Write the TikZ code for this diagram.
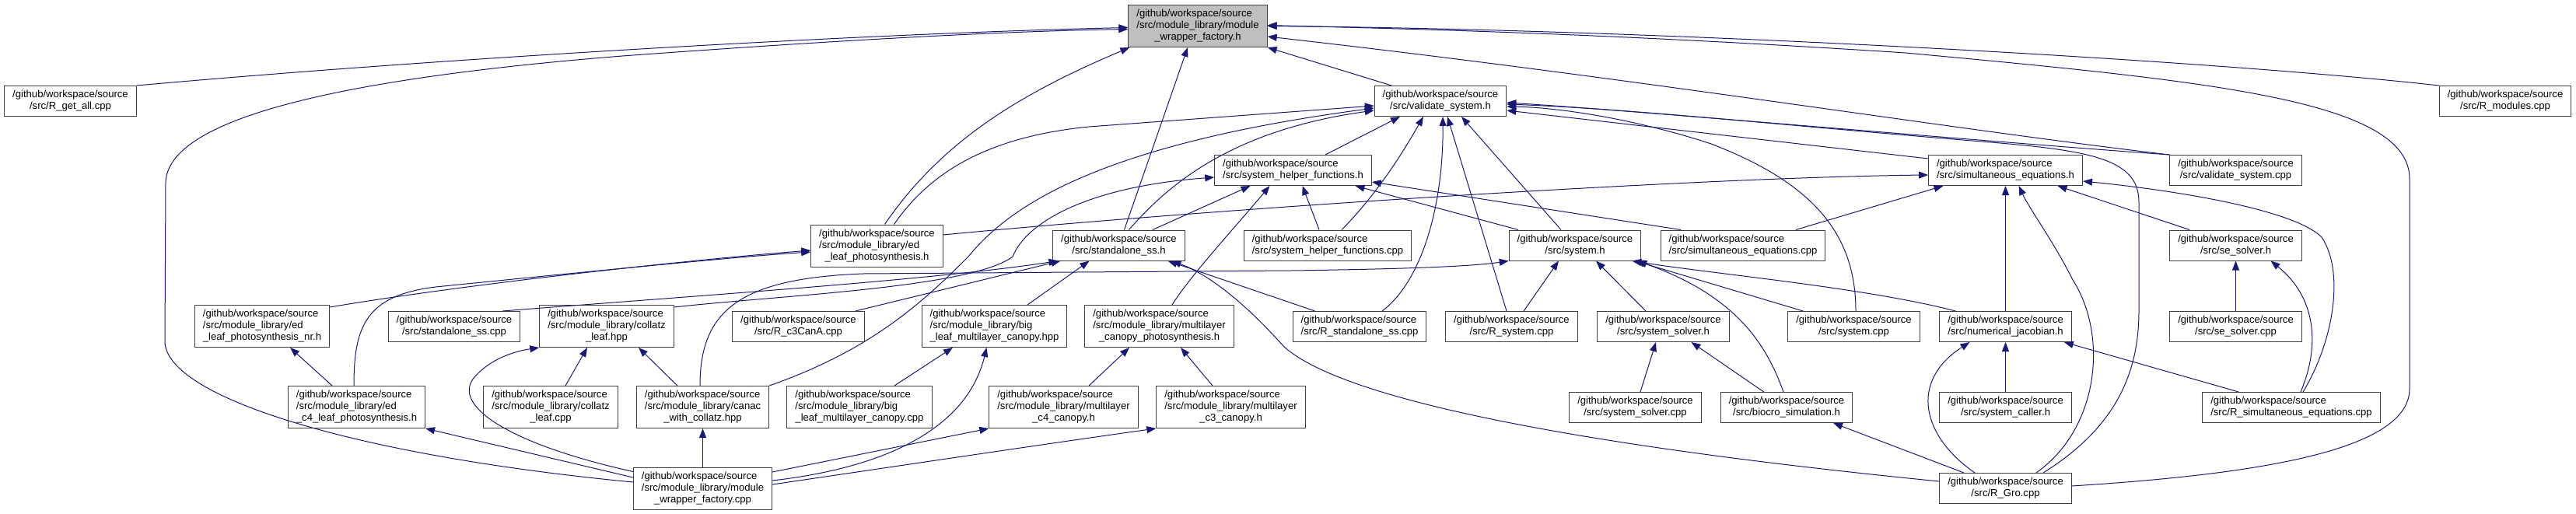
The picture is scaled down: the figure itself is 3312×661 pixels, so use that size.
\documentclass[tikz,border=0pt]{standalone}
\usepackage{fontspec}
\setmainfont{Liberation Sans}
\usepackage{xcolor}
\usetikzlibrary{arrows.meta,calc}

\definecolor{edgeblue}{HTML}{191970}
\definecolor{boxgray}{HTML}{BFBFBF}
\definecolor{boxline}{HTML}{404040}

% file labels: first lines flush left, last line centred
\newcommand{\ftwo}[1]{\begin{tabular}{@{}l@{}}/github/workspace/source\\\multicolumn{1}{@{}c@{}}{#1}\end{tabular}}
\newcommand{\fthree}[2]{\begin{tabular}{@{}l@{}}/github/workspace/source\\#1\\\multicolumn{1}{@{}c@{}}{#2}\end{tabular}}

\begin{document}
\begin{tikzpicture}[
    x=1pt, y=-1pt,
    every node/.style={rectangle, draw=boxline, line width=1pt, inner xsep=10.5pt, inner ysep=4.5pt,
        font=\fontsize{13.1}{15}\selectfont},
    focus/.style={fill=boxgray},
    dep/.style={draw=edgeblue, line width=1pt, -{Triangle[length=12pt,width=9pt]}}
]
\useasboundingbox (0,0) rectangle (3312,661);

% Top row
\node[focus] (mwf_h) at (1540,33.5) {\fthree{/src/module\_library/module}{\_wrapper\_factory.h}};
\node (R_get_all) at (90.5,130) {\ftwo{/src/R\_get\_all.cpp}};
\node (vs_h) at (1852,130) {\ftwo{/src/validate\_system.h}};
\node (R_modules) at (3221,130) {\ftwo{/src/R\_modules.cpp}};

% Second row
\node (shf_h) at (1662.5,219) {\ftwo{/src/system\_helper\_functions.h}};
\node (simeq_h) at (2578.5,219) {\ftwo{/src/simultaneous\_equations.h}};
\node (vs_cpp) at (2874.5,219) {\ftwo{/src/validate\_system.cpp}};

% Third row
\node (ed_leaf) at (1127.5,316) {\fthree{/src/module\_library/ed}{\_leaf\_photosynthesis.h}};
\node (ss_h) at (1438.5,315.5) {\ftwo{/src/standalone\_ss.h}};
\node (shf_cpp) at (1707,315.5) {\ftwo{/src/system\_helper\_functions.cpp}};
\node (system_h) at (2025,315.5) {\ftwo{/src/system.h}};
\node (simeq_cpp) at (2241,315.5) {\ftwo{/src/simultaneous\_equations.cpp}};
\node (se_solver_h) at (2874.5,315.5) {\ftwo{/src/se\_solver.h}};

% Fourth row
\node (ed_nr) at (337,419.5) {\fthree{/src/module\_library/ed}{\_leaf\_photosynthesis\_nr.h}};
\node (ss_cpp) at (584,420) {\ftwo{/src/standalone\_ss.cpp}};
\node (collatz_hpp) at (780,419.5) {\fthree{/src/module\_library/collatz}{\_leaf.hpp}};
\node (R_c3CanA) at (1026.5,420) {\ftwo{/src/R\_c3CanA.cpp}};
\node (bl_hpp) at (1278.5,419.5) {\fthree{/src/module\_library/big}{\_leaf\_multilayer\_canopy.hpp}};
\node (mlcp) at (1490.5,419.5) {\fthree{/src/module\_library/multilayer}{\_canopy\_photosynthesis.h}};
\node (R_standalone) at (1748,420) {\ftwo{/src/R\_standalone\_ss.cpp}};
\node (R_system) at (1943.5,420) {\ftwo{/src/R\_system.cpp}};
\node (system_solver_h) at (2138.5,420) {\ftwo{/src/system\_solver.h}};
\node (system_cpp) at (2383.5,420) {\ftwo{/src/system.cpp}};
\node (nj_h) at (2578.5,420) {\ftwo{/src/numerical\_jacobian.h}};
\node (se_solver_cpp) at (2874.5,420) {\ftwo{/src/se\_solver.cpp}};

% Fifth row
\node (ed_c4) at (458.5,523.5) {\fthree{/src/module\_library/ed}{\_c4\_leaf\_photosynthesis.h}};
\node (collatz_cpp) at (708,523.5) {\fthree{/src/module\_library/collatz}{\_leaf.cpp}};
\node (canac) at (903.5,523.5) {\fthree{/src/module\_library/canac}{\_with\_collatz.hpp}};
\node (bl_cpp) at (1105,523.5) {\fthree{/src/module\_library/big}{\_leaf\_multilayer\_canopy.cpp}};
\node (ml_c4) at (1367.5,523.5) {\fthree{/src/module\_library/multilayer}{\_c4\_canopy.h}};
\node (ml_c3) at (1582.5,523.5) {\fthree{/src/module\_library/multilayer}{\_c3\_canopy.h}};
\node (system_solver_cpp) at (2102.5,524) {\ftwo{/src/system\_solver.cpp}};
\node (biocro) at (2297,524) {\ftwo{/src/biocro\_simulation.h}};
\node (system_caller) at (2578.5,524) {\ftwo{/src/system\_caller.h}};
\node (R_simeq_cpp) at (2946,524) {\ftwo{/src/R\_simultaneous\_equations.cpp}};

% Bottom row
\node (mwf_cpp) at (903.5,628) {\fthree{/src/module\_library/module}{\_wrapper\_factory.cpp}};
\node (R_Gro) at (2578.5,628) {\ftwo{/src/R\_Gro.cpp}};

% Includes of module_wrapper_factory.h
\draw[dep] (R_get_all.north east) .. controls (600,72) and (1150,42) .. ($(mwf_h.west)+(0,2)$);
\draw[dep] ($(mwf_cpp.west)+(0,-8)$) .. controls (450,585) and (215,510) .. (212,440) -- (213,235)
    .. controls (215,150) and (450,100) .. (800,72) .. controls (1100,50) and (1300,40) .. ($(mwf_h.west)+(0,4)$);
\draw[dep] ($(ed_leaf.north)+(10,0)$) .. controls (1215,175) and (1323,116) .. ($(mwf_h.south west)+(2,0)$);
\draw[dep] ($(ss_h.north)+(7,0)$) -- ($(mwf_h.south)+(-13,0)$);
\draw[dep] ($(vs_h.north)+(-63,0)$) -- (mwf_h.south east);
\draw[dep] (vs_cpp.north west) .. controls (2500,165) and (2100,100) .. ($(mwf_h.east)+(0,13.5)$);
\draw[dep] (R_modules.north west) .. controls (2850,78) and (2150,38) .. (mwf_h.east);
\draw[dep] ($(R_Gro.east)+(0,-3)$) .. controls (2900,610) and (3098,580) .. (3098,500) -- (3098,230)
    .. controls (3098,130) and (2850,105) .. (2450,68) .. controls (2050,42) and (1800,37) .. ($(mwf_h.east)+(0,-1)$);

% Includes of validate_system.h
\draw[dep] ($(ed_leaf.north)+(22,0)$) .. controls (1200,215) and (1280,175) .. (1400,163) -- ($(vs_h.west)+(0,6)$);
\draw[dep] ($(ss_h.north)+(13,0)$) .. controls (1500,240) and (1580,168) .. ($(vs_h.west)+(0,12)$);
\draw[dep] (canac.north east) .. controls (1120,450) and (1185,390) .. (1245,330)
    .. controls (1300,262) and (1420,185) .. ($(vs_h.west)+(0,9)$);
\draw[dep] ($(shf_h.north)+(41.5,0)$) -- ($(vs_h.south)+(-52,0)$);
\draw[dep] ($(shf_cpp.north)+(18,0)$) .. controls (1775,245) and (1810,185) .. ($(vs_h.south)+(-22,0)$);
\draw[dep] ($(R_standalone.north)+(29,0)$) .. controls (1830,360) and (1856,260) .. ($(vs_h.south)+(3,0)$);
\draw[dep] ($(R_system.north)+(-6.5,0)$) -- ($(vs_h.south)+(9,0)$);
\draw[dep] ($(system_h.north)+(-18,0)$) -- ($(vs_h.south)+(27,0)$);
\draw[dep] (vs_cpp.north west) .. controls (2500,178) and (2100,142) .. ($(vs_h.east)+(0,2)$);
\draw[dep] ($(R_Gro.north)+(48.5,0)$) .. controls (2720,550) and (2750,480) .. (2750,400) -- (2750,260)
    .. controls (2750,205) and (2690,194) .. (2560,183) .. controls (2300,162) and (2100,140) .. ($(vs_h.east)+(0,4)$);
\draw[dep] ($(simeq_h.north west)+(0,5)$) -- ($(vs_h.east)+(0,12)$);
\draw[dep] ($(system_cpp.north)+(2.5,0)$) .. controls (2386,300) and (2330,235) .. (2200,185)
    .. controls (2100,152) and (2000,138) .. ($(vs_h.east)+(0,7)$);

% Includes of system_helper_functions.h
\draw[dep] ($(ss_h.north)+(43.5,0)$) -- ($(shf_h.south)+(-55,0)$);
\draw[dep] ($(mlcp.north)+(16.5,0)$) .. controls (1530,355) and (1590,290) .. ($(shf_h.south)+(-30,0)$);
\draw[dep] ($(shf_cpp.north)+(-11,0)$) -- ($(shf_h.south)+(12,0)$);
\draw[dep] ($(system_h.north)+(-73,0)$) -- ($(shf_h.south)+(80,0)$);
\draw[dep] ($(simeq_cpp.north)+(-80,0)$) -- ($(shf_h.east)+(0,15)$);
\draw[dep] ($(collatz_hpp.north east)+(0,3)$) .. controls (1000,380) and (1250,370) .. (1302,330)
    .. controls (1320,285) and (1400,240) .. ($(shf_h.west)+(0,9)$);

% Includes of simultaneous_equations.h
\draw[dep] ($(ed_leaf.east)+(0,-14)$) .. controls (1600,265) and (2200,228) .. ($(simeq_h.west)+(0,6)$);
\draw[dep] ($(simeq_cpp.north)+(68,0)$) -- ($(simeq_h.south)+(-80,0)$);
\draw[dep] (nj_h.north) -- (simeq_h.south);
\draw[dep] ($(R_Gro.north)+(39.5,0)$) .. controls (2700,550) and (2710,430) .. (2665,360)
    .. controls (2640,310) and (2610,270) .. ($(simeq_h.south)+(17,0)$);
\draw[dep] ($(se_solver_h.north west)+(26,0)$) -- ($(simeq_h.south)+(67,0)$);
\draw[dep] ($(R_simeq_cpp.north)+(15,0)$) .. controls (3000,440) and (3015,350) .. (2985,305)
    .. controls (2950,270) and (2800,245) .. ($(simeq_h.east)+(0,14)$);

% Includes of standalone_ss.h
\draw[dep] ($(bl_hpp.north)+(42.5,0)$) -- ($(ss_h.south)+(-38,0)$);
\draw[dep] ($(R_standalone.north west)+(29,0)$) -- ($(ss_h.south)+(63,0)$);
\draw[dep] ($(R_Gro.west)+(0,-9)$) .. controls (2000,570) and (1720,510) .. (1650,445)
    .. controls (1610,400) and (1560,355) .. ($(ss_h.south)+(68,0)$);
\draw[dep] ($(ss_cpp.north)+(62,0)$) .. controls (900,380) and (1200,360) .. ($(ss_h.south)+(-78,0)$);
\draw[dep] ($(R_c3CanA.north east)+(-12,0)$) -- ($(ss_h.south)+(-75,0)$);

% Includes of the ed leaf headers
\draw[dep] ($(ed_c4.north)+(-31.5,0)$) -- ($(ed_nr.south)+(36,0)$);
\draw[dep] ($(ed_nr.north east)+(0,3)$) .. controls (600,365) and (900,333) .. ($(ed_leaf.west)+(0,6)$);
\draw[dep] ($(ed_c4.north)+(-3.5,0)$) .. controls (455,420) and (470,380) .. (560,369)
    .. controls (800,345) and (950,330) .. ($(ed_leaf.west)+(0,8)$);

% Includes of system.h
\draw[dep] ($(canac.north)+(-3.5,0)$) .. controls (900,400) and (950,358) .. (1110,352) -- (1660,348)
    .. controls (1800,346) and (1890,343) .. (system_h.south west);
\draw[dep] ($(R_system.north)+(15.5,0)$) -- ($(system_h.south)+(-21,0)$);
\draw[dep] ($(system_solver_h.north)+(-22.5,0)$) -- ($(system_h.south)+(27,0)$);
\draw[dep] ($(nj_h.north west)+(21,0)$) .. controls (2400,370) and (2200,352) .. ($(system_h.south east)+(-12,0)$);
\draw[dep] ($(system_cpp.north west)+(20,0)$) -- ($(system_h.south east)+(-8,0)$);
\draw[dep] ($(biocro.north)+(-4,0)$) .. controls (2270,440) and (2230,380) .. ($(system_h.south east)+(-5,0)$);

% Includes of system_solver.h
\draw[dep] ($(biocro.north west)+(56,0)$) -- ($(system_solver_h.south)+(36,0)$);
\draw[dep] ($(system_solver_cpp.north)+(6.5,0)$) -- ($(system_solver_h.south)+(-9.5,0)$);

% Includes of numerical_jacobian.h and biocro_simulation.h
\draw[dep] (system_caller.north) -- (nj_h.south);
\draw[dep] ($(R_simeq_cpp.north west)+(47,0)$) -- ($(nj_h.south east)+(-10,0)$);
\draw[dep] ($(R_Gro.north)+(-39.5,0)$) .. controls (2470,560) and (2455,490) .. ($(nj_h.south)+(-46,0)$);
\draw[dep] ($(R_Gro.north)+(-53.5,0)$) -- ($(biocro.south)+(60,0)$);

% Includes of se_solver.h
\draw[dep] (se_solver_cpp.north) -- (se_solver_h.south);
\draw[dep] ($(R_simeq_cpp.north)+(12,0)$) .. controls (2985,440) and (2975,380) .. ($(se_solver_h.south)+(45,0)$);

% Includes of collatz_leaf.hpp and canac_with_collatz.hpp
\draw[dep] ($(mwf_cpp.north west)+(0,6)$) .. controls (650,570) and (580,520) .. (610,485)
    .. controls (630,462) and (660,452) .. (collatz_hpp.south west);
\draw[dep] ($(collatz_cpp.north)+(19,0)$) -- ($(collatz_hpp.south)+(-25,0)$);
\draw[dep] ($(canac.north)+(-32.5,0)$) -- ($(collatz_hpp.south)+(41,0)$);
\draw[dep] (mwf_cpp.north) -- (canac.south);

% Remaining includes from module_wrapper_factory.cpp
\draw[dep] ($(mwf_cpp.west)+(0,-14)$) -- (ed_c4.south east);
\draw[dep] ($(mwf_cpp.east)+(0,-21)$) -- (ml_c4.south west);
\draw[dep] ($(mwf_cpp.east)+(0,-5)$) .. controls (1150,600) and (1350,570) .. (ml_c3.south west);
\draw[dep] ($(mwf_cpp.east)+(0,-10)$) .. controls (1150,600) and (1245,545) .. ($(bl_hpp.south)+(-10,0)$);

% Multilayer and big leaf headers
\draw[dep] ($(bl_cpp.north)+(45,0)$) -- ($(bl_hpp.south)+(-53.5,0)$);
\draw[dep] ($(ml_c4.north)+(32.5,0)$) -- ($(mlcp.south)+(-38.5,0)$);
\draw[dep] ($(ml_c3.north)+(-23.5,0)$) -- ($(mlcp.south)+(27.5,0)$);

\end{tikzpicture}
\end{document}
